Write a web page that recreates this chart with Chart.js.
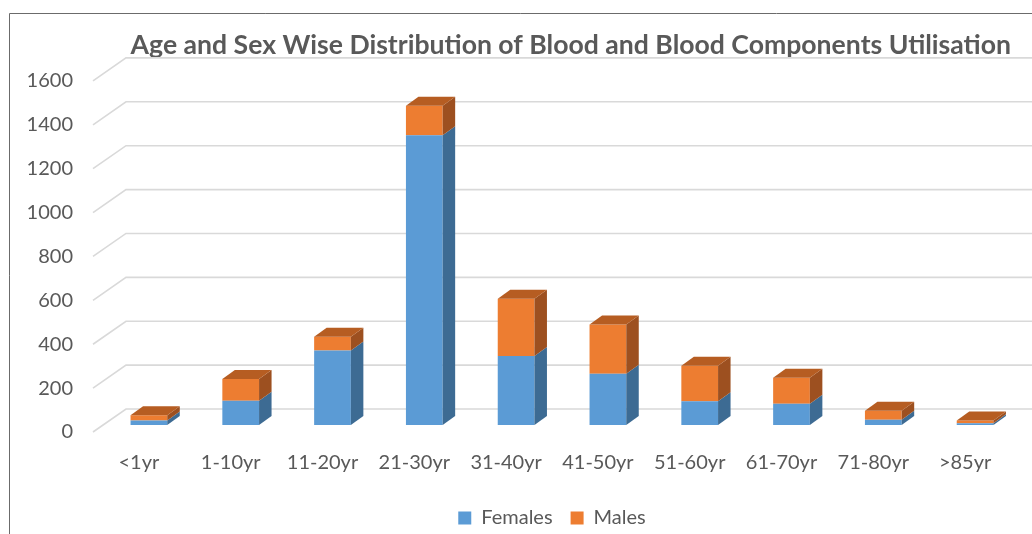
<!DOCTYPE html>
<html>
<head>
<meta charset="utf-8">
<script src="https://cdn.jsdelivr.net/npm/chart.js@4"></script>
<style>
    html, body { margin: 0; padding: 0; background: #fff; overflow: hidden; }
    canvas { display: block; }
</style>
</head>
<body>
<canvas id="chart" width="1032" height="538"></canvas>
<script>
const ageGroups = ['<1yr', '1-10yr', '11-20yr', '21-30yr', '31-40yr', '41-50yr', '51-60yr', '61-70yr', '71-80yr', '>85yr'];
const females = [20, 110, 340, 1320, 315, 233, 108, 97, 24, 8];
const males = [25, 100, 62, 135, 260, 225, 162, 118, 41, 13];
const yTicks = [0, 200, 400, 600, 800, 1000, 1200, 1400, 1600];

const GREY = '#595959';
const FONT = 'Lato, "Open Sans", sans-serif';

// fake 3d: wall depth, bar offset into the floor, bar depth
const WALL = { dx: 33, dy: -23 };
const SHIFT = { dx: 10, dy: -7 };
const DEPTH = { dx: 12.5, dy: -9 };

const FACES = [
    { side: '#3d6b93', top: '#4a7fae' },
    { side: '#9d5020', top: '#b65d22' },
];

function poly(ctx, pts, fill) {
    ctx.beginPath();
    ctx.moveTo(pts[0][0], pts[0][1]);
    pts.slice(1).forEach(([x, y]) => ctx.lineTo(x, y));
    ctx.closePath();
    ctx.fillStyle = fill;
    ctx.fill();
}

const frame = {
    id: 'frame',
    beforeDraw(chart) {
        const ctx = chart.ctx;
        ctx.save();
        ctx.strokeStyle = '#6b6b6b';
        ctx.lineWidth = 1;
        ctx.beginPath();
        ctx.moveTo(9.5, chart.height);
        ctx.lineTo(9.5, 13.5);
        ctx.lineTo(chart.width, 13.5);
        ctx.stroke();
        ctx.restore();
    },
};

const walls = {
    id: 'walls',
    beforeDatasetsDraw(chart) {
        const {ctx, chartArea} = chart;
        const y = chart.scales.y;
        ctx.save();
        ctx.strokeStyle = '#d9d9d9';
        ctx.lineWidth = 1.6;
        yTicks.forEach((v) => {
            const py = y.getPixelForValue(v);
            ctx.beginPath();
            ctx.moveTo(chartArea.left, py);
            ctx.lineTo(chartArea.left + WALL.dx, py + WALL.dy);
            ctx.lineTo(chartArea.right + WALL.dx + 40, py + WALL.dy);
            ctx.stroke();
        });
        ctx.restore();
        // bars sit a little behind the front edge of the floor
        ctx.save();
        ctx.translate(SHIFT.dx, SHIFT.dy);
    },
    afterDatasetsDraw(chart) {
        const ctx = chart.ctx;
        ctx.restore();
        ctx.save();
        ctx.translate(SHIFT.dx, SHIFT.dy);
        const last = chart.data.datasets.length - 1;
        chart.data.datasets.forEach((ds, di) => {
            chart.getDatasetMeta(di).data.forEach((bar) => {
                const {x, y, base, width} = bar.getProps(['x', 'y', 'base', 'width'], true);
                const xl = x - width / 2;
                const xr = x + width / 2;
                poly(ctx, [[xr, y], [xr + DEPTH.dx, y + DEPTH.dy], [xr + DEPTH.dx, base + DEPTH.dy], [xr, base]], FACES[di].side);
                if (di === last) {
                    poly(ctx, [[xl, y], [xl + DEPTH.dx, y + DEPTH.dy], [xr + DEPTH.dx, y + DEPTH.dy], [xr, y]], FACES[di].top);
                }
            });
        });
        ctx.restore();
    },
};

new Chart(document.getElementById('chart'), {
    type: 'bar',
    data: {
        labels: ageGroups,
        datasets: [
            { label: 'Females', data: females, backgroundColor: '#5b9bd5' },
            { label: 'Males', data: males, backgroundColor: '#ed7d31' },
        ],
    },
    options: {
        responsive: false,
        animation: false,
        devicePixelRatio: 1,
        layout: { padding: { left: 0, right: 21, top: 0, bottom: 0 } },
        datasets: { bar: { barPercentage: 0.4, categoryPercentage: 1 } },
        scales: {
            x: {
                stacked: true,
                grid: { display: false, drawTicks: false },
                border: { display: false },
                ticks: { color: GREY, font: { family: FONT, size: 20 }, padding: 19, maxRotation: 0 },
                afterFit: (scale) => { scale.height = 58; },
            },
            y: {
                stacked: true,
                min: 0,
                max: 1600,
                grid: { display: false, drawTicks: false },
                border: { display: false },
                ticks: {
                    stepSize: 200,
                    color: GREY,
                    font: { family: FONT, size: 20 },
                    padding: 20,
                    callback: (v) => String(v),
                },
                afterFit: (scale) => { scale.width = 93; },
            },
        },
        plugins: {
            title: {
                display: true,
                fullSize: false,
                text: 'Age and Sex Wise Distribution of Blood and Blood Components Utilisation',
                align: 'end',
                color: GREY,
                font: { family: FONT, size: 26.6, weight: 'bold' },
                padding: { top: 29, bottom: 20 },
            },
            legend: {
                position: 'bottom',
                fullSize: false,
                labels: { color: GREY, font: { family: FONT, size: 20 }, boxWidth: 13, boxHeight: 13, padding: 18 },
            },
            tooltip: { enabled: false },
        },
    },
    plugins: [frame, walls],
});
</script>
</body>
</html>
